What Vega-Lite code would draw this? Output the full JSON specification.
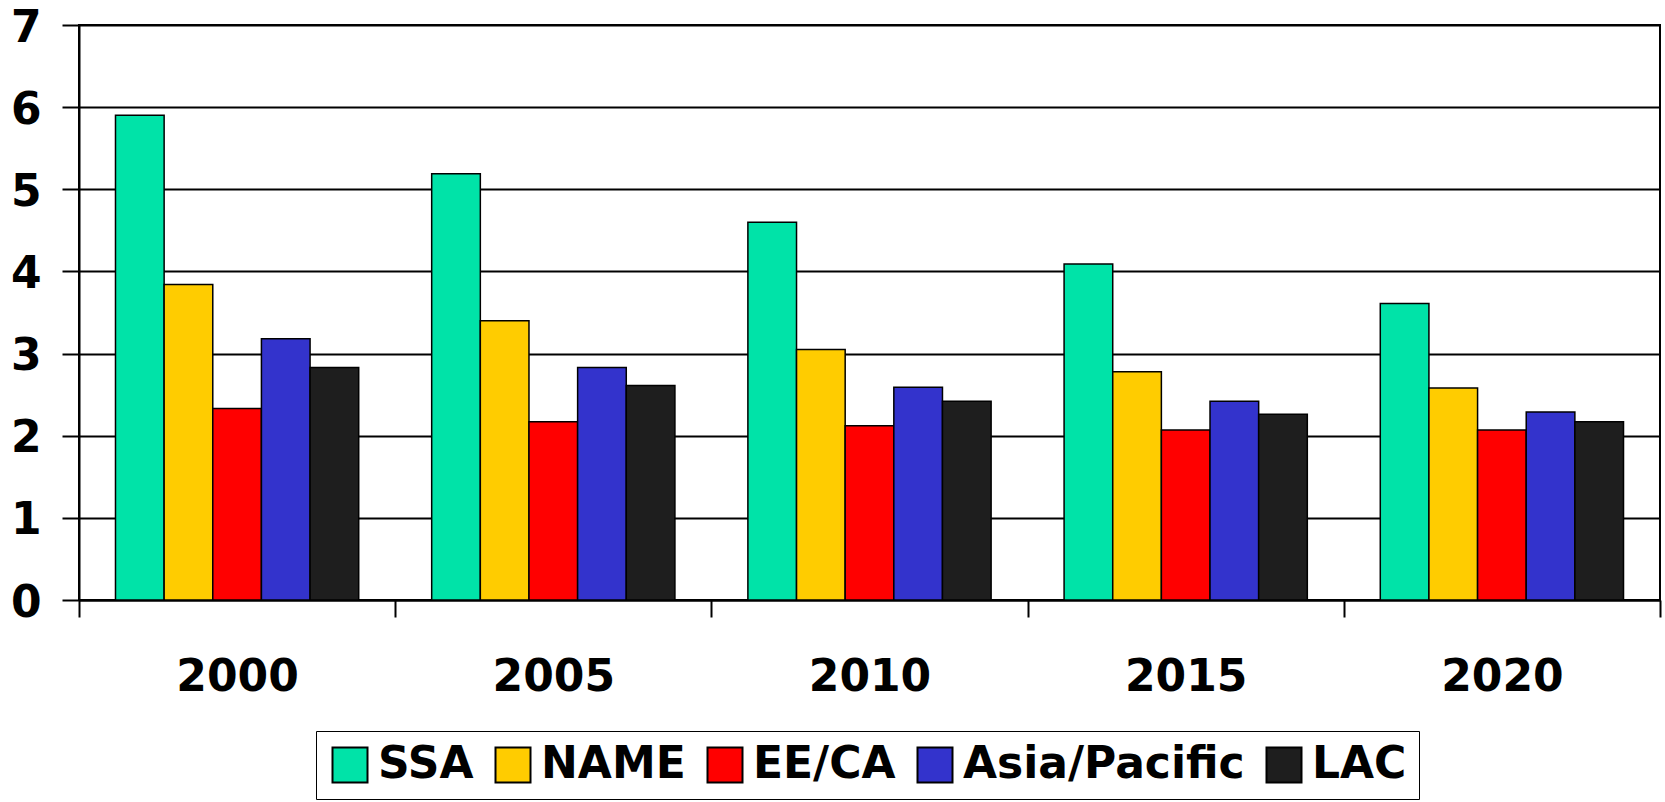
{
  "$schema": "https://vega.github.io/schema/vega-lite/v6.json",
  "autosize": {"type": "none"},
  "width": 1581,
  "height": 575,
  "padding": {"left": 79, "top": 25, "right": 5, "bottom": 202},
  "background": "white",
  "config": {
    "font": "DejaVu Sans",
    "view": {"stroke": "black", "strokeWidth": 2}
  },
  "data": {
    "values": [
      {"year": "2000", "region": "SSA", "value": 5.90},
      {"year": "2000", "region": "NAME", "value": 3.84},
      {"year": "2000", "region": "EE/CA", "value": 2.33},
      {"year": "2000", "region": "Asia/Pacific", "value": 3.18},
      {"year": "2000", "region": "LAC", "value": 2.83},
      {"year": "2005", "region": "SSA", "value": 5.19},
      {"year": "2005", "region": "NAME", "value": 3.40},
      {"year": "2005", "region": "EE/CA", "value": 2.17},
      {"year": "2005", "region": "Asia/Pacific", "value": 2.83},
      {"year": "2005", "region": "LAC", "value": 2.61},
      {"year": "2010", "region": "SSA", "value": 4.60},
      {"year": "2010", "region": "NAME", "value": 3.05},
      {"year": "2010", "region": "EE/CA", "value": 2.12},
      {"year": "2010", "region": "Asia/Pacific", "value": 2.59},
      {"year": "2010", "region": "LAC", "value": 2.42},
      {"year": "2015", "region": "SSA", "value": 4.09},
      {"year": "2015", "region": "NAME", "value": 2.78},
      {"year": "2015", "region": "EE/CA", "value": 2.07},
      {"year": "2015", "region": "Asia/Pacific", "value": 2.42},
      {"year": "2015", "region": "LAC", "value": 2.26},
      {"year": "2020", "region": "SSA", "value": 3.61},
      {"year": "2020", "region": "NAME", "value": 2.58},
      {"year": "2020", "region": "EE/CA", "value": 2.07},
      {"year": "2020", "region": "Asia/Pacific", "value": 2.29},
      {"year": "2020", "region": "LAC", "value": 2.17}
    ]
  },
  "mark": {"type": "bar", "stroke": "black", "strokeWidth": 1.5},
  "encoding": {
    "x": {
      "field": "year",
      "type": "nominal",
      "scale": {"paddingInner": 0, "paddingOuter": 0},
      "axis": {
        "title": null,
        "labelAngle": 0,
        "labelFontSize": 44,
        "labelFontWeight": "bold",
        "labelColor": "black",
        "labelPadding": 38,
        "labelBaseline": "top",
        "tickBand": "extent",
        "tickSize": 17,
        "tickColor": "black",
        "tickWidth": 2,
        "domainColor": "black",
        "domainWidth": 2,
        "grid": false
      }
    },
    "xOffset": {
      "field": "region",
      "type": "nominal",
      "sort": ["SSA", "NAME", "EE/CA", "Asia/Pacific", "LAC"],
      "scale": {"paddingInner": 0, "paddingOuter": 0.75}
    },
    "y": {
      "field": "value",
      "type": "quantitative",
      "scale": {"domain": [0, 7], "nice": false},
      "axis": {
        "title": null,
        "values": [0, 1, 2, 3, 4, 5, 6, 7],
        "labelFontSize": 44,
        "labelFontWeight": "bold",
        "labelColor": "black",
        "labelPadding": 21,
        "labelOffset": 3,
        "tickSize": 17,
        "tickColor": "black",
        "tickWidth": 2,
        "domainColor": "black",
        "domainWidth": 2,
        "grid": true,
        "gridColor": "black",
        "gridWidth": 2,
        "gridOpacity": 1
      }
    },
    "color": {
      "field": "region",
      "type": "nominal",
      "sort": ["SSA", "NAME", "EE/CA", "Asia/Pacific", "LAC"],
      "scale": {
        "domain": ["SSA", "NAME", "EE/CA", "Asia/Pacific", "LAC"],
        "range": ["#00E3A8", "#FFCC00", "#FF0000", "#3333CC", "#1E1E1E"]
      },
      "legend": {
        "title": null,
        "orient": "none",
        "legendX": 237,
        "legendY": 706,
        "direction": "horizontal",
        "columns": 5,
        "columnPadding": 17,
        "symbolType": "square",
        "symbolSize": 1225,
        "symbolStrokeColor": "black",
        "symbolStrokeWidth": 2,
        "symbolOpacity": 1,
        "labelFontSize": 44,
        "labelFontWeight": "bold",
        "labelColor": "black",
        "labelOffset": 6,
        "labelLimit": 0,
        "strokeColor": "black",
        "padding": 12,
        "fillColor": "white"
      }
    }
  }
}
